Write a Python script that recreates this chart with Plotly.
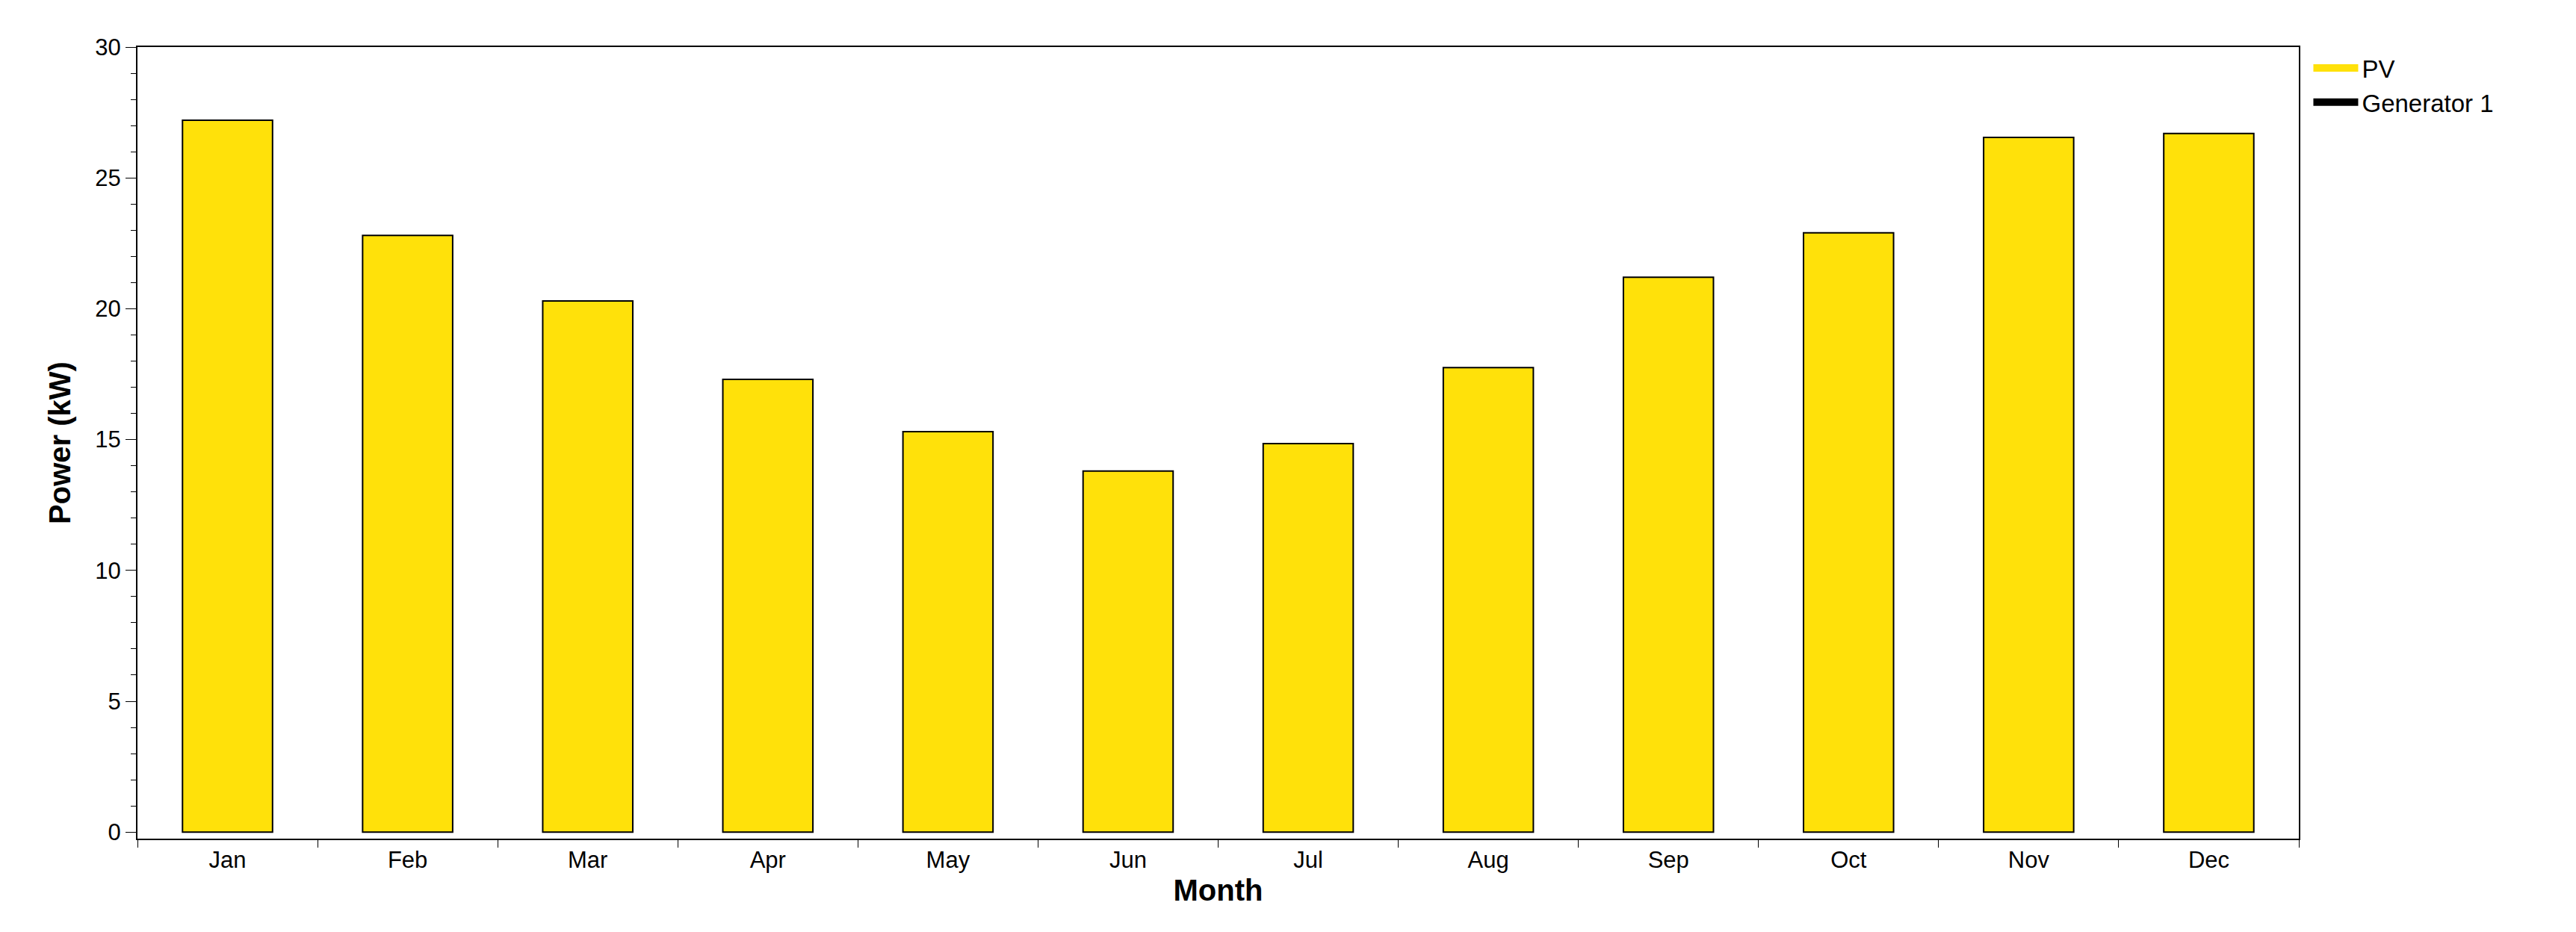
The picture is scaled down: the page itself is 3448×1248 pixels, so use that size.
import plotly.graph_objects as go

months = ["Jan","Feb","Mar","Apr","May","Jun","Jul","Aug","Sep","Oct","Nov","Dec"]
pv = [27.2, 22.8, 20.3, 17.3, 15.3, 13.8, 14.85, 17.75, 21.2, 22.9, 26.55, 26.7]
series_names = ["PV", "Generator 1"]
series_colors = ["#FFE10A", "#000000"]

fig = go.Figure()
fig.add_trace(go.Bar(x=months, y=pv, width=0.5, marker=dict(color=series_colors[0], line=dict(color="black", width=2)), showlegend=False))
for n, c in zip(series_names, series_colors):
    fig.add_trace(go.Scatter(x=[None], y=[None], mode="lines", name=n, line=dict(color=c, width=10)))

fig.update_layout(
    width=3448, height=1248, paper_bgcolor="white", plot_bgcolor="white",
    margin=dict(l=176, r=379, t=55, b=133),
    font=dict(family="Liberation Sans", size=31, color="black"),
    legend=dict(x=1.005, y=1.0, xanchor="left", yanchor="top", font=dict(size=33), tracegroupgap=0, itemwidth=60),
    bargap=0.5,
)
fig.update_xaxes(title=dict(text="<b>Month</b>", font=dict(size=40), standoff=10), showline=True, linecolor="black", linewidth=2, mirror=True,
                 ticks="outside", tickson="boundaries", ticklen=10, tickcolor="black", range=[-0.5, 11.5])
fig.update_yaxes(title=dict(text="<b>Power (kW)</b>", font=dict(size=40), standoff=20), range=[-0.25, 30], tickvals=[0,5,10,15,20,25,30],
                 showline=True, linecolor="black", linewidth=2, mirror=True, showgrid=False, zeroline=False,
                 ticks="outside", ticklen=14, tickcolor="black",
                 minor=dict(ticks="outside", ticklen=7, dtick=1, tick0=0, tickcolor="black"))
fig.write_html("out.html")
